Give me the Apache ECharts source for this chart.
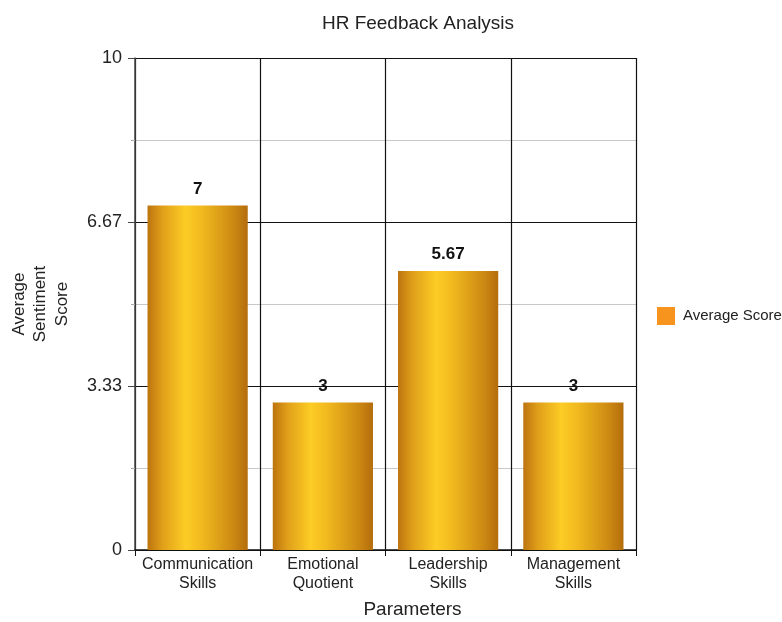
<!DOCTYPE html>
<html>
<head>
<meta charset="utf-8">
<script src="https://cdn.jsdelivr.net/npm/echarts@6/dist/echarts.min.js"></script>
<style>html,body{margin:0;padding:0;background:#fff}#c{width:782px;height:622px}</style>
</head>
<body>
<div id="c"></div>
<script>
const categories = ["Communication Skills", "Emotional Quotient", "Leadership Skills", "Management Skills"];
const averageScore = [7, 3, 5.67, 3];
const seriesName = "Average Score";
const yMin = 0, yMax = 10, yInterval = 10 / 3;

const chart = echarts.init(document.getElementById('c'));
const font = 'Liberation Sans, Arial, sans-serif';
const barGradient = new echarts.graphic.LinearGradient(0, 0, 1, 0, [
  { offset: 0, color: '#bd740e' },
  { offset: 0.15, color: '#e0a01a' },
  { offset: 0.38, color: '#fdcc25' },
  { offset: 0.55, color: '#f0b81e' },
  { offset: 0.85, color: '#cd8a13' },
  { offset: 1, color: '#b46d0c' }
]);
chart.setOption({
  backgroundColor: '#fff',
  animation: false,
  textStyle: { fontFamily: font },
  title: {
    text: 'HR Feedback Analysis', left: 413, top: 9, textAlign: 'center',
    textStyle: { fontFamily: font, fontSize: 19, fontWeight: 'normal', color: '#222' }
  },
  legend: {
    orient: 'vertical', left: 652, top: 302, itemWidth: 18, itemHeight: 18, itemGap: 6,
    textStyle: { fontFamily: font, fontSize: 15, color: '#222', padding: [0, 0, 0, 3] },
    data: [{ name: seriesName, icon: 'rect', itemStyle: { color: '#f7941d' } }]
  },
  grid: { left: 135, right: 146, top: 58, bottom: 72, containLabel: false, outerBoundsMode: 'none' },
  xAxis: {
    type: 'category', data: categories,
    name: 'Parameters', nameLocation: 'middle', nameGap: 50,
    nameTextStyle: { fontFamily: font, fontSize: 19, color: '#222', padding: [0, 0, 0, 54] },
    axisLine: { show: true, lineStyle: { color: '#111', width: 1.5 } },
    axisTick: { show: true, interval: 0, length: 6, lineStyle: { color: '#111' } },
    splitLine: { show: true, interval: 0, lineStyle: { color: '#111', width: 1.2 } },
    axisLabel: {
      interval: 0, fontFamily: font, fontSize: 16, color: '#222', lineHeight: 19, margin: 5,
      formatter: v => v.replace(' ', '\n')
    }
  },
  yAxis: {
    type: 'value', min: yMin, max: yMax, interval: yInterval,
    name: 'Average\nSentiment\nScore', nameLocation: 'middle', nameGap: 62, nameRotate: 90,
    nameTextStyle: { fontFamily: font, fontSize: 17, color: '#222', lineHeight: 21.5 },
    axisLine: { show: true, lineStyle: { color: '#444', width: 1.5 } },
    axisTick: { show: true, length: 7, lineStyle: { color: '#444' } },
    minorTick: { show: true, splitNumber: 2, length: 4, lineStyle: { color: '#aaa' } },
    splitLine: { show: true, lineStyle: { color: '#111', width: 1.2 } },
    minorSplitLine: { show: true, lineStyle: { color: '#c8c8c8', width: 1 } },
    axisLabel: {
      fontFamily: font, fontSize: 18, color: '#222', margin: 13,
      formatter: v => String(Math.round(v * 100) / 100)
    }
  },
  series: [{
    name: seriesName, type: 'bar', data: averageScore, barCategoryGap: '20%',
    itemStyle: { color: barGradient },
    label: {
      show: true, position: 'top', distance: 8, fontFamily: font, fontSize: 17,
      fontWeight: 'bold', color: '#111'
    }
  }]
});
</script>
</body>
</html>
